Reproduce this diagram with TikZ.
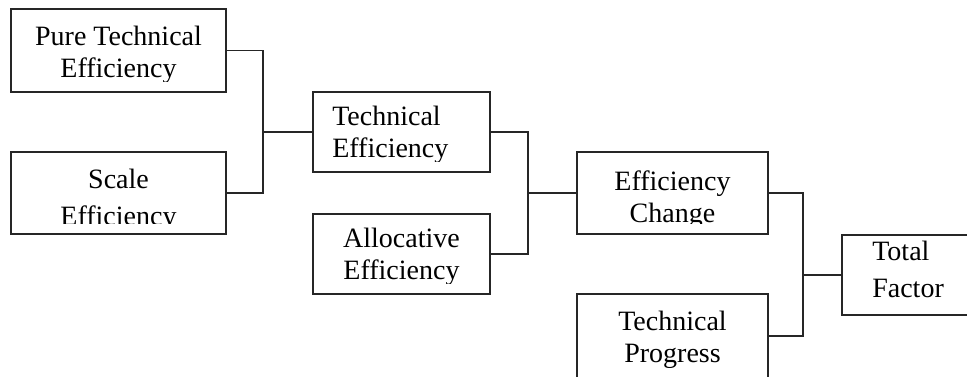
\documentclass[tikz,border=0pt]{standalone}
\usepackage{fontspec}
\setmainfont{Liberation Serif}
\usetikzlibrary{positioning}
\tikzset{stage/.style={rectangle,draw=black!85,line width=1.8pt,fill=white,inner sep=0pt},
stagetext/.style={inner sep=0pt,font=\fontsize{28}{32}\selectfont},
link/.style={draw=black!85,line width=1.8pt}}
% box with its text cut off a little above the lower border
\newcommand{\effbox}[6]{
\node (#1) [stage,minimum width=#3,minimum height=#4] at (#2) {};
\begin{scope}
\clip (#1.north west) rectangle ([yshift=11pt]#1.south east);
\node (#1txt) [stagetext,#5] {#6};
\end{scope}
}

\begin{document}
\begin{tikzpicture}[x=1pt,y=-1pt]
  \clip (0,0) rectangle (967,376);
  \effbox{pure}{118.5,50.5}{215pt}{83pt}{align=center,below=17.5pt of pure.north}{Pure Technical\\Efficiency}
  \effbox{scale}{118.5,193}{215pt}{82pt}{align=center,font=\fontsize{28}{37}\selectfont,below=18pt of scale.north}{Scale\\Efficiency}
  \effbox{tech}{401.5,132}{177pt}{80pt}{align=left,below right=15pt and 20pt of tech.north west}{Technical\\Efficiency}
  \effbox{alloc}{401.5,254}{177pt}{80pt}{align=center,below=15pt of alloc.north}{Allocative\\Efficiency}
  \effbox{change}{672.5,193}{191pt}{82pt}{align=center,below=19pt of change.north}{Efficiency\\Change}
  \effbox{progress}{672.5,336}{191pt}{84pt}{align=center,below=17.5pt of progress.north}{Technical\\Progress}
  \effbox{total}{921,275}{158pt}{80pt}{align=left,font=\fontsize{28}{37}\selectfont,below right=7pt and 31pt of total.north west}{Total\\Factor}

  \coordinate (j1) at (263,132);
  \coordinate (j2) at (528,193);
  \coordinate (j3) at (803,275);
  \draw [link] (pure.east) -| (j1) |- (scale.east);
  \draw [link] (j1) -- (tech.west);
  \draw [link] (tech.east) -| (j2) |- (alloc.east);
  \draw [link] (j2) -- (change.west);
  \draw [link] (change.east) -| (j3) |- (progress.east);
  \draw [link] (j3) -- (total.west);
\end{tikzpicture}
\end{document}
